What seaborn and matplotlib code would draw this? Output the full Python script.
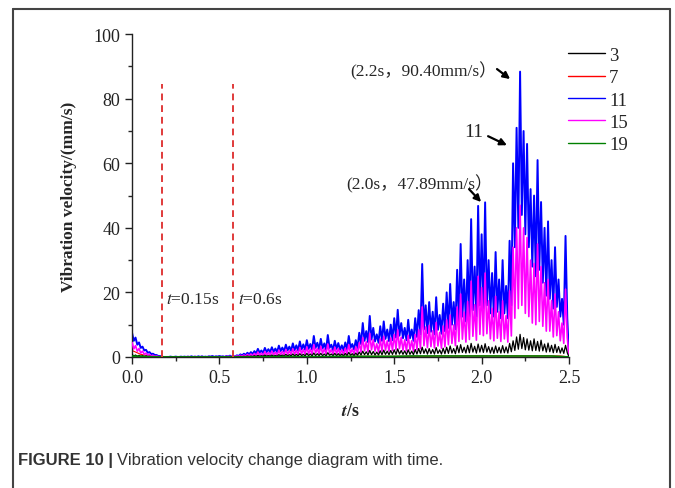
import numpy as np
import pandas as pd
import matplotlib
matplotlib.use("Agg")
import matplotlib.pyplot as plt
from matplotlib.lines import Line2D
from matplotlib.ticker import MultipleLocator
import seaborn as sns

# ------------------------------------------------------------
# data (mm/s), 0.01 s grid for 3 / 11 / 15
# ------------------------------------------------------------
v11 = [
    7.5, 5.0, 6.0, 3.8, 4.5, 2.8, 3.2, 2.0, 2.2, 1.3,
    1.5, 0.9, 1.0, 0.6, 0.6, 0.3, 0.3, 0.1, 0.0, 0.0,
    0.0, 0.0, 0.1, 0.0, 0.0, 0.1, 0.0, 0.0, 0.1, 0.0,
    0.1, 0.0, 0.1, 0.0, 0.2, 0.0, 0.1, 0.0, 0.2, 0.0,
    0.2, 0.0, 0.1, 0.0, 0.2, 0.1, 0.3, 0.0, 0.2, 0.1,
    0.3, 0.1, 0.2, 0.0, 0.3, 0.1, 0.4, 0.1, 0.3, 0.1,
    0.5, 0.3, 0.8, 0.5, 1.0, 0.6, 1.3, 0.8, 1.5, 0.9,
    1.8, 1.1, 2.5, 1.3, 2.0, 1.2, 2.8, 1.5, 2.4, 1.5,
    3.0, 1.6, 2.6, 1.5, 3.5, 1.8, 2.9, 1.7, 3.8, 2.0,
    3.2, 1.9, 4.2, 2.1, 3.6, 2.0, 4.8, 2.3, 3.9, 2.2,
    5.2, 2.5, 4.0, 2.3, 6.5, 2.8, 4.4, 2.4, 5.6, 2.6,
    4.2, 2.2, 6.8, 2.8, 3.8, 2.1, 5.0, 2.5, 4.3, 2.2,
    3.6, 2.0, 4.5, 2.3, 6.5, 2.8, 4.0, 2.3, 5.2, 2.8,
    7.5, 4.0, 10.5, 5.0, 8.0, 4.6, 12.7, 5.4, 9.0, 4.8,
    7.0, 4.4, 9.5, 5.0, 11.0, 5.6, 8.5, 4.9, 10.0, 5.2,
    12.0, 6.0, 14.6, 6.6, 10.5, 5.8, 9.0, 5.2, 11.5, 5.8,
    8.5, 5.0, 12.0, 6.2, 14.5, 7.0, 28.8, 8.5, 16.0, 7.4,
    17.0, 7.8, 14.0, 7.0, 18.5, 8.4, 13.0, 7.2, 16.5, 8.0,
    20.0, 9.0, 22.6, 10.0, 17.0, 8.6, 27.0, 11.0, 35.0, 12.5,
    24.0, 11.0, 30.0, 12.5, 42.7, 14.5, 28.0, 12.5, 46.8, 16.0,
    38.0, 15.0, 47.9, 16.0, 30.0, 13.5, 26.0, 12.5, 32.5, 14.0,
    24.0, 12.0, 30.0, 13.5, 22.0, 12.0, 36.0, 16.0, 60.0, 34.0,
    71.0, 40.0, 88.4, 44.0, 70.0, 38.0, 66.0, 34.0, 52.0, 28.0,
    50.0, 25.0, 61.0, 27.0, 48.0, 23.0, 40.0, 19.0, 42.0, 18.0,
    30.0, 15.0, 34.0, 15.5, 24.0, 12.5, 18.0, 10.0, 37.5, 12.0,
    0.0,
]

v15 = [
    4.5, 2.5, 3.5, 1.8, 2.6, 1.2, 1.8, 0.8, 1.2, 0.5,
    0.8, 0.3, 0.5, 0.2, 0.3, 0.1, 0.1, 0.0, 0.0, 0.0,
    0.0, 0.0, 0.0, 0.0, 0.0, 0.0, 0.0, 0.0, 0.0, 0.0,
    0.0, 0.0, 0.1, 0.0, 0.0, 0.0, 0.1, 0.0, 0.0, 0.0,
    0.1, 0.0, 0.0, 0.0, 0.1, 0.0, 0.1, 0.0, 0.1, 0.0,
    0.1, 0.0, 0.1, 0.0, 0.2, 0.0, 0.2, 0.0, 0.2, 0.1,
    0.3, 0.1, 0.5, 0.2, 0.6, 0.2, 0.8, 0.3, 0.9, 0.3,
    1.1, 0.4, 1.5, 0.5, 1.2, 0.4, 1.7, 0.6, 1.4, 0.5,
    1.8, 0.6, 1.5, 0.5, 2.1, 0.7, 1.7, 0.6, 2.3, 0.8,
    1.9, 0.7, 2.5, 0.8, 2.1, 0.7, 2.9, 0.9, 2.3, 0.8,
    3.1, 1.0, 2.4, 0.8, 3.8, 1.2, 2.6, 0.9, 3.3, 1.1,
    2.5, 0.9, 4.0, 1.2, 2.3, 0.8, 3.0, 1.0, 2.6, 0.9,
    2.2, 0.8, 2.7, 0.9, 3.8, 1.2, 2.4, 0.9, 3.1, 1.1,
    4.4, 1.5, 6.0, 1.9, 4.7, 1.6, 7.3, 2.2, 5.3, 1.8,
    4.1, 1.5, 5.6, 1.8, 6.4, 2.1, 5.0, 1.8, 5.9, 2.0,
    7.0, 2.3, 8.4, 2.6, 6.1, 2.1, 5.3, 1.9, 6.7, 2.2,
    5.0, 1.8, 7.0, 2.3, 8.4, 2.6, 15.5, 3.5, 9.3, 2.9,
    9.8, 3.2, 8.1, 2.8, 10.7, 3.4, 7.6, 2.7, 9.6, 3.1,
    11.5, 3.8, 13.0, 4.2, 9.9, 3.5, 15.5, 4.8, 19.5, 5.5,
    13.9, 4.6, 17.2, 5.4, 23.5, 6.4, 16.2, 5.2, 25.0, 7.0,
    21.5, 6.6, 26.0, 7.2, 17.4, 5.6, 15.1, 5.0, 18.8, 5.8,
    14.0, 4.8, 17.4, 5.6, 12.8, 4.6, 20.5, 6.5, 34.0, 12.0,
    40.0, 15.0, 47.0, 16.0, 40.0, 13.5, 37.0, 12.5, 30.0, 10.5,
    29.0, 10.0, 35.0, 11.0, 28.0, 9.5, 23.0, 8.0, 24.0, 8.0,
    17.5, 6.2, 19.5, 6.6, 14.0, 5.0, 10.5, 4.2, 21.0, 6.0,
    0.0,
]

v3 = [
    0.8, 0.3, 0.6, 0.2, 0.5, 0.2, 0.4, 0.1, 0.3, 0.1,
    0.2, 0.1, 0.1, 0.0, 0.1, 0.0, 0.0, 0.0, 0.0, 0.0,
    0.0, 0.0, 0.0, 0.0, 0.0, 0.0, 0.0, 0.0, 0.0, 0.0,
    0.0, 0.0, 0.0, 0.0, 0.0, 0.0, 0.0, 0.0, 0.0, 0.0,
    0.0, 0.0, 0.0, 0.0, 0.0, 0.0, 0.0, 0.0, 0.0, 0.0,
    0.0, 0.0, 0.0, 0.0, 0.1, 0.0, 0.0, 0.1, 0.0, 0.0,
    0.1, 0.0, 0.2, 0.1, 0.2, 0.1, 0.3, 0.1, 0.3, 0.1,
    0.4, 0.1, 0.5, 0.2, 0.4, 0.2, 0.6, 0.2, 0.5, 0.2,
    0.6, 0.2, 0.5, 0.2, 0.7, 0.3, 0.6, 0.2, 0.8, 0.3,
    0.7, 0.3, 0.9, 0.3, 0.8, 0.3, 1.0, 0.4, 0.8, 0.3,
    1.1, 0.4, 0.9, 0.3, 1.2, 0.4, 1.0, 0.4, 1.1, 0.4,
    0.9, 0.3, 1.3, 0.5, 0.9, 0.4, 1.1, 0.4, 1.0, 0.4,
    0.9, 0.3, 1.1, 0.4, 1.4, 0.5, 1.0, 0.4, 1.2, 0.5,
    1.5, 0.6, 1.8, 0.7, 1.6, 0.6, 2.0, 0.7, 1.7, 0.6,
    1.5, 0.6, 1.9, 0.7, 2.1, 0.8, 1.8, 0.7, 2.0, 0.8,
    2.2, 0.8, 2.5, 0.9, 2.0, 0.8, 1.9, 0.7, 2.2, 0.8,
    1.8, 0.7, 2.3, 0.9, 2.6, 1.0, 3.0, 1.1, 2.5, 0.9,
    2.6, 1.0, 2.3, 0.9, 2.9, 1.1, 2.2, 0.9, 2.7, 1.0,
    3.0, 1.1, 3.4, 1.2, 2.6, 1.0, 3.5, 1.3, 3.8, 1.4,
    3.0, 1.2, 3.6, 1.3, 4.2, 1.5, 3.3, 1.2, 4.0, 1.5,
    3.6, 1.4, 4.1, 1.5, 3.2, 1.2, 3.0, 1.1, 3.4, 1.3,
    3.0, 1.2, 3.5, 1.3, 3.1, 1.2, 4.2, 1.6, 5.0, 2.0,
    6.2, 2.4, 7.0, 2.6, 6.0, 2.2, 5.6, 2.1, 5.0, 1.9,
    5.6, 2.0, 4.8, 1.8, 5.2, 1.9, 4.0, 1.5, 4.3, 1.6,
    3.6, 1.3, 3.9, 1.4, 3.2, 1.2, 2.8, 1.1, 3.6, 1.3,
    0.0,
]

# 0.05 s grid
v7 = [
    2.0, 0.8, 0.3, 0.1, 0.0, 0.0, 0.0, 0.0, 0.0, 0.0,
    0.0, 0.0, 0.0, 0.0, 0.0, 0.1, 0.1, 0.1, 0.1, 0.1,
    0.1, 0.1, 0.1, 0.1, 0.2, 0.2, 0.2, 0.2, 0.2, 0.2,
    0.2, 0.2, 0.2, 0.2, 0.2, 0.3, 0.3, 0.3, 0.3, 0.3,
    0.3, 0.3, 0.3, 0.3, 0.3, 0.3, 0.3, 0.3, 0.3, 0.3,
    0.0,
]

# 0.1 s grid
v19 = [0.3, 0.1, 0.0, 0.0, 0.0, 0.0, 0.0, 0.0, 0.1, 0.1,
       0.1, 0.1, 0.2, 0.2, 0.2, 0.2, 0.3, 0.3, 0.3, 0.3,
       0.3, 0.3, 0.3, 0.3, 0.3, 0.0]

series_names = ["3", "7", "11", "15", "19"]
series_colors = {"3": "black", "7": "#ff0000", "11": "#0000ff",
                 "15": "#ff00ff", "19": "#008000"}

marker_times = [0.17, 0.58]
marker_labels = ["0.15s", "0.6s"]


def to_frame(vals, step):
    t = np.round(np.arange(len(vals)) * step, 3)
    return pd.DataFrame({"t": t, "v": vals})


frames = {
    "3": to_frame(v3, 0.01),
    "7": to_frame(v7, 0.05),
    "11": to_frame(v11, 0.01),
    "15": to_frame(v15, 0.01),
    "19": to_frame(v19, 0.1),
}

# ------------------------------------------------------------
# plot
# ------------------------------------------------------------
sns.set_style("ticks")
plt.rcParams["font.family"] = ["Liberation Serif", "Noto Sans CJK SC"]
plt.rcParams["mathtext.fontset"] = "stix"

fig = plt.figure(figsize=(6.75, 4.89), dpi=100)
ax = fig.add_axes([0.1956, 0.268, 0.6474, 0.660])

# draw order: 7 under everything, black and green on top
for name, z, lw in [("7", 1, 0.8), ("11", 2, 1.4), ("15", 3, 1.2),
                    ("3", 4, 0.9), ("19", 5, 1.2)]:
    sns.lineplot(data=frames[name], x="t", y="v", color=series_colors[name],
                 lw=lw, estimator=None, sort=False, ax=ax, zorder=z,
                 legend=False)

for tm, lab in zip(marker_times, marker_labels):
    ax.plot([tm, tm], [0, 84.5], ls=(0, (3.5, 2.5)), color="#e03a3a",
            lw=1.4, zorder=6)
    ax.text(tm + 0.025, 18, r"$\it{t}$=" + lab, fontsize=12.5,
            va="center", ha="left")

ax.set_xlim(0, 2.5)
ax.set_ylim(0, 100)
ax.xaxis.set_major_locator(MultipleLocator(0.5))
ax.xaxis.set_minor_locator(MultipleLocator(0.25))
ax.yaxis.set_major_locator(MultipleLocator(20))
ax.yaxis.set_minor_locator(MultipleLocator(10))
ax.xaxis.set_major_formatter(plt.FormatStrFormatter("%.1f"))
ax.tick_params(which="major", direction="out", length=5, width=1,
               labelsize=13, colors="#222222")
ax.tick_params(which="minor", direction="out", length=3, width=1)
sns.despine(ax=ax)
for s in ["left", "bottom"]:
    ax.spines[s].set_linewidth(1.0)
    ax.spines[s].set_color("#222222")

ax.set_xlabel(r"$\mathbfit{t}$/s", fontsize=13, fontweight="bold",
              labelpad=12)
ax.set_ylabel("Vibration velocity/(mm/s)", fontsize=12.5,
              fontweight="bold", labelpad=12)

# annotations: text and arrows drawn separately
arrow_kw = dict(arrowstyle="-|>", color="black", lw=1.6,
                mutation_scale=10, shrinkA=0, shrinkB=0)
ax.text(2.085, 89, "(2.2s，90.40mm/s）", ha="right", va="center",
        fontsize=12.5)
ax.annotate("", xy=(2.163, 86.1), xytext=(2.088, 89.2), arrowprops=arrow_kw)
ax.text(2.01, 69.7, "11", ha="right", va="center", fontsize=14)
ax.annotate("", xy=(2.145, 65.6), xytext=(2.037, 68.4), arrowprops=arrow_kw)
ax.text(2.065, 54, "(2.0s，47.89mm/s）", ha="right", va="center",
        fontsize=12.5)
ax.annotate("", xy=(1.997, 48.0), xytext=(1.928, 52.0), arrowprops=arrow_kw)

handles = [Line2D([], [], color=series_colors[n], lw=1.0) for n in series_names]
ax.legend(handles, series_names, loc="upper left",
          bbox_to_anchor=(0.816, 0.937), bbox_transform=fig.transFigure,
          frameon=False, fontsize=13.5, handlelength=2.0,
          handletextpad=0.2, labelspacing=0.28)

# figure frame and caption
frame_kw = dict(color="#444444", lw=1.5, transform=fig.transFigure)
fig.add_artist(Line2D([0.019, 0.019], [0.0, 0.98], **frame_kw))
fig.add_artist(Line2D([0.019, 0.993], [0.98, 0.98], **frame_kw))
fig.add_artist(Line2D([0.993, 0.993], [0.0, 0.98], **frame_kw))

cap1 = fig.text(0.026, 0.059, "FIGURE 10 |", fontsize=12, fontweight="bold",
                family="Liberation Sans", color="#333333", va="center")
fig.canvas.draw()
bb = cap1.get_window_extent(fig.canvas.get_renderer())
fig.text(bb.x1 / fig.bbox.width + 0.007, 0.059,
         "Vibration velocity change diagram with time.",
         fontsize=12, family="Liberation Sans", color="#333333",
         va="center")

fig.savefig("out.png", dpi=100)
